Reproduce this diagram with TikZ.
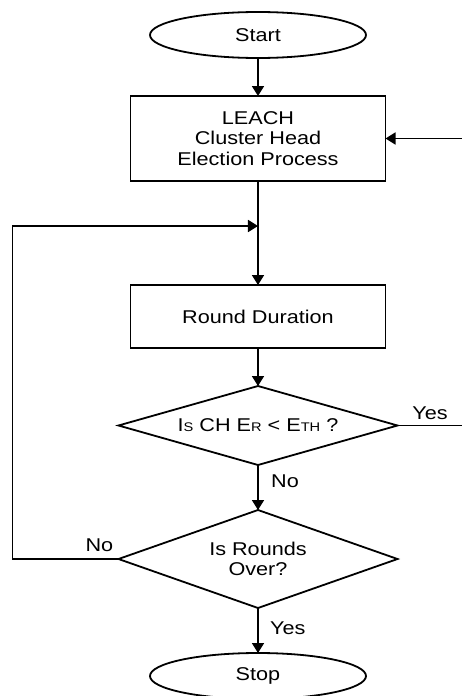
\documentclass[tikz,border=0pt]{standalone}
\usepackage{fontspec}
\setmainfont{Liberation Sans}[FakeStretch=1.17]
\usepackage{tikz}
\usetikzlibrary{shapes,arrows.meta,positioning}
\newcommand{\smc}[1]{{\fontsize{12.5}{12.5}\selectfont #1}}

\begin{document}
\begin{tikzpicture}[node distance=38pt, line width=1.8pt,
    >={Triangle[length=10pt,width=12pt]},
    every node/.style={font=\fontsize{18.5}{20.5}\selectfont},
    terminal/.style={draw, ellipse, minimum width=216pt, minimum height=46pt, outer sep=0pt},
    process/.style={draw, rectangle, minimum width=255pt, outer sep=0pt, align=center},
    decision/.style={draw, diamond, aspect=3.5, inner sep=2pt, minimum width=279pt, outer sep=0pt, align=center}]
    \useasboundingbox (-258pt,35pt) rectangle (204pt,-661pt);

    \node[terminal] (start) {Start};
    \node[process, minimum height=85pt, below=38pt of start] (leach) {LEACH\\Cluster Head\\Election Process};
    \coordinate[below=45pt of leach] (merge);
    \node[process, minimum height=63pt, below=104pt of leach] (round) {Round Duration};
    \node[decision, minimum height=79pt, below=38pt of round] (check) {I\smc{S} CH E\smc{R} < E\smc{TH} ?};
    \node[decision, minimum height=98pt, below=45pt of check] (over) {Is Rounds\\Over?};
    \node[terminal, below=45pt of over] (stop) {Stop};

    \coordinate (yesend) at ([xshift=65pt]check.east);
    \coordinate (backin) at (leach.east -| yesend);
    \coordinate (loopleft) at ([xshift=-106pt]over.west);

    \draw[->] (start) -- (leach);
    \draw[->] (leach) -- (round);
    \draw[->] (round) -- (check);
    \draw (check.east) -- node[above=2pt] {Yes} (yesend);
    \draw[->] (backin) -- (leach.east);
    \draw[->] (check) -- node[right=9pt, pos=0.35] {No} (over);
    \draw[->] (over) -- node[right=8pt, pos=0.45] {Yes} (stop);
    \draw[->] (over.west) -- node[above=3pt, pos=0.18] {No} (loopleft) |- (merge);
\end{tikzpicture}
\end{document}
